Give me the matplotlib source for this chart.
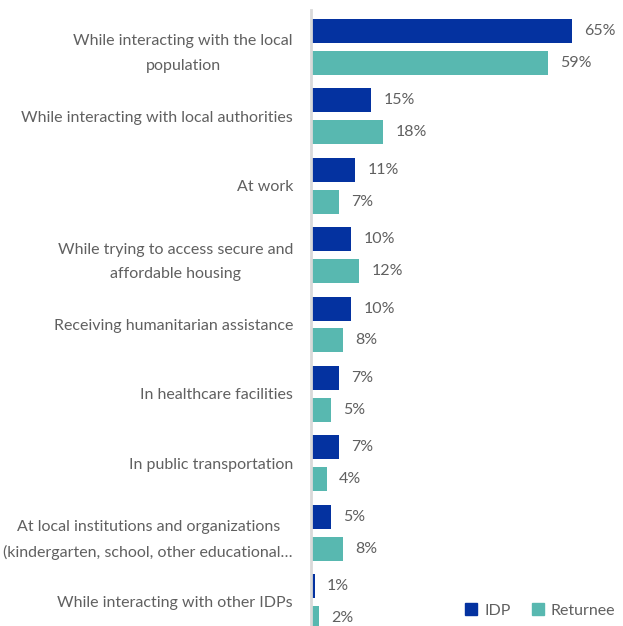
"""Horizontal grouped bars: where IDPs and returnees experienced discrimination."""

import matplotlib
matplotlib.use("Agg")
import matplotlib.pyplot as plt
from matplotlib.lines import Line2D
import numpy as np

plt.rcParams["font.family"] = ["Lato", "DejaVu Sans"]

categories = [
    "While interacting with the local\npopulation",
    "While interacting with local authorities",
    "At work",
    "While trying to access secure and\naffordable housing",
    "Receiving humanitarian assistance",
    "In healthcare facilities",
    "In public transportation",
    "At local institutions and organizations\n(kindergarten, school, other educational\u2026",
    "While interacting with other IDPs",
]
idp = [65, 15, 11, 10, 10, 7, 7, 5, 1]
returnee = [59, 18, 7, 12, 8, 5, 4, 8, 2]

IDP_COLOR = "#0432a0"
RET_COLOR = "#58b8b0"
TEXT_COLOR = "#606060"
FS = 11.5

fig = plt.figure(figsize=(6.23, 6.26), dpi=100)
ax = fig.add_axes([311 / 623, 0, 312 / 623, 616 / 626])

y = np.arange(len(categories))
off, h = 0.23, 0.346
ax.barh(y - off, idp, height=h, color=IDP_COLOR)
ax.barh(y + off, returnee, height=h, color=RET_COLOR)

for yi, v in zip(y - off, idp):
    ax.text(v + 3, yi, f"{v}%", va="center", ha="left", fontsize=FS, color=TEXT_COLOR)
for yi, v in zip(y + off, returnee):
    ax.text(v + 3, yi, f"{v}%", va="center", ha="left", fontsize=FS, color=TEXT_COLOR)

ax.set_xlim(0, 77.6)
ax.set_ylim(8.346, -0.533)
ax.set_yticks(y)
ax.set_yticklabels(categories, fontsize=FS, color=TEXT_COLOR)
for lbl in ax.get_yticklabels():
    lbl.set_multialignment("center")
    lbl.set_linespacing(1.95)
ax.tick_params(axis="y", length=0, pad=13)
ax.set_xticks([])

for side in ("top", "right", "bottom"):
    ax.spines[side].set_visible(False)
ax.spines["left"].set_color("#d9d9d9")
ax.spines["left"].set_linewidth(2)

handles = [
    Line2D([], [], marker="s", linestyle="", markersize=9, color=IDP_COLOR, label="IDP"),
    Line2D([], [], marker="s", linestyle="", markersize=9, color=RET_COLOR, label="Returnee"),
]
fig.legend(handles=handles, loc="lower right", bbox_to_anchor=(1.0, 0.0), ncol=2,
           frameon=False, fontsize=FS, labelcolor=TEXT_COLOR,
           handlelength=0.8, handletextpad=0.4, columnspacing=1.3, borderaxespad=0.1)

fig.savefig("out.png", dpi=100)
